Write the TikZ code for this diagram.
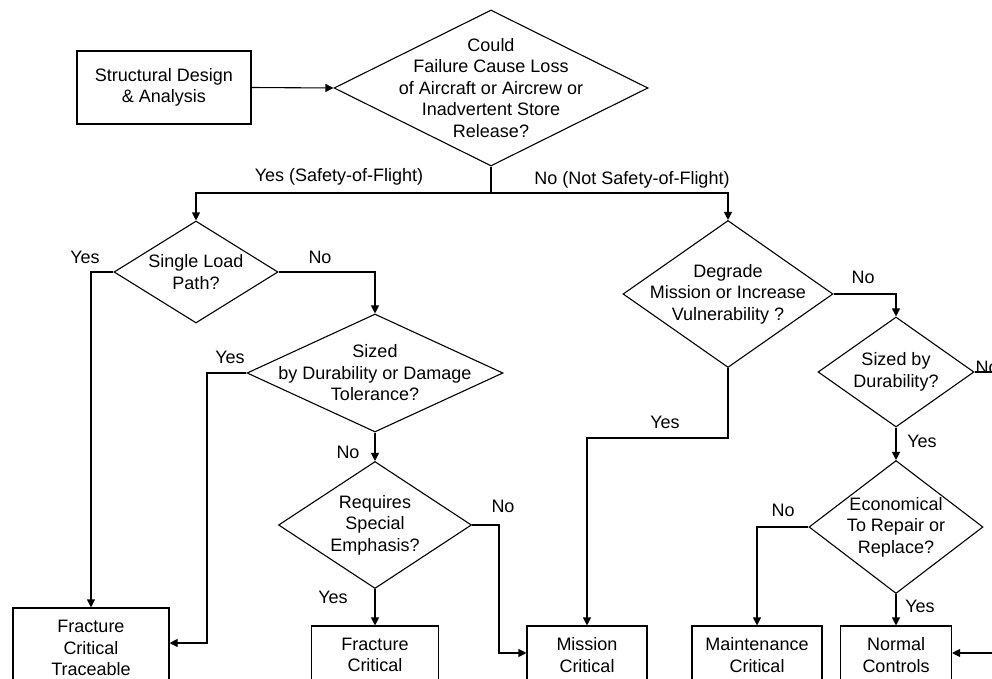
\documentclass[tikz,border=0pt]{standalone}
\usepackage{fontspec}
\setmainfont{Liberation Sans}
\usetikzlibrary{arrows.meta,shapes.geometric}

\begin{document}
\begin{tikzpicture}[x=1pt,y=-1pt,line width=1.1pt,
 every node/.style={font=\fontsize{18}{21.5}\selectfont},
 box/.style={draw,align=center,inner sep=0pt},
 dia/.style={draw,diamond,inner sep=0pt},
 txt/.style={align=center,inner sep=0pt},
 arr/.style={-{Triangle[length=8pt,width=8pt]}}]
\useasboundingbox (0,0) rectangle (992,679);
\clip (0,0) rectangle (992,679);
\node[box,minimum width=174pt,minimum height=73pt] (sda) at (164,87.5) {Structural Design\\\& Analysis};
\node[dia,minimum width=314pt,minimum height=156pt,label={[txt]center:Could\\Failure Cause Loss\\of Aircraft or Aircrew or\\Inadvertent Store\\Release?}] (q1) at (491,88) {};
\node[dia,minimum width=164pt,minimum height=102pt,label={[txt]center:Single Load\\Path?}] (slp) at (196,272) {};
\node[dia,minimum width=256pt,minimum height=118pt,label={[txt]center:Sized\\by Durability or Damage\\Tolerance?}] (szd) at (375,373) {};
\node[dia,minimum width=193pt,minimum height=127pt,label={[txt]center:Requires\\Special\\Emphasis?}] (rse) at (375,525) {};
\node[dia,minimum width=210pt,minimum height=147pt,label={[txt]center:Degrade\\Mission or Increase\\Vulnerability ?}] (dmi) at (728,294) {};
\node[dia,minimum width=156pt,minimum height=110pt,label={[txt]center:Sized by\\Durability?}] (sbd) at (896,372) {};
\node[dia,minimum width=174pt,minimum height=133pt,label={[txt]center:Economical\\To Repair or\\Replace?}] (eco) at (896,527) {};
\node[box,minimum width=156pt,minimum height=80pt] (fct) at (91,648) {Fracture\\Critical\\Traceable};
\foreach \n/\t/\x/\w in {fc/{Fracture\\Critical}/375/127,mc/{Mission\\Critical}/587/120,
 mtc/{Maintenance\\Critical}/757/130,nc/{Normal\\Controls}/896/111}
 \node[box,minimum width=\w pt,minimum height=58pt] (\n) at (\x,655) {\t};
\foreach \t/\x/\y [count=\i] in {{Yes (Safety-of-Flight)}/339/177,{No (Not Safety-of-Flight)}/632/180,
 Yes/85/257,No/320/257,Yes/230/357,No/348/452,Yes/333/597,No/503/506,
 No/863/277,Yes/665/422,No/987/367,Yes/922/441,No/783/510,Yes/920/606}
 \node (l\i) at (\x,\y) {\t};
\coordinate (fork) at (491,193);
\coordinate (yb) at (207,643);
\coordinate (nb) at (499,653);
\coordinate (yc) at (587,438);
\coordinate (ne) at (1000,372);
\coordinate (ri) at (1000,653);
\draw[arr] (sda.east) -- (q1.west);
\draw (q1.south) -- (fork);
\draw[arr] (fork) -| (slp.north);
\draw[arr] (fork) -| (dmi.north);
\draw[arr] (slp.west) -| (fct.north);
\draw[arr] (slp.east) -| (szd.north);
\draw[arr] (szd.west) -| (yb) -- (yb -| fct.east);
\draw[arr] (szd.south) -- (rse.north);
\draw[arr] (rse.south) -- (fc.north);
\draw[arr] (rse.east) -| (nb) -- (nb -| mc.west);
\draw[arr] (dmi.south) |- (yc) -- (mc.north);
\draw[arr] (dmi.east) -| (sbd.north);
\draw (sbd.east) -- (ne);
\draw[arr] (sbd.south) -- (eco.north);
\draw[arr] (eco.west) -| (mtc.north);
\draw[arr] (eco.south) -- (nc.north);
\draw[arr] (ri) -- (ri -| nc.east);
\end{tikzpicture}
\end{document}
